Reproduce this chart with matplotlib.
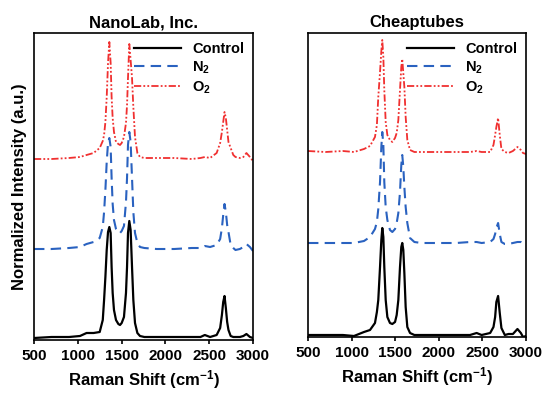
import matplotlib
matplotlib.use("Agg")
import matplotlib.pyplot as plt

plt.rcParams['font.family'] = ['Liberation Sans', 'DejaVu Sans']
plt.rcParams['font.weight'] = 'bold'
plt.rcParams['mathtext.default'] = 'regular'

# NanoLab, Inc. -- Raman shift (cm-1) and offset, normalized spectra
wn_nano = [500, 700, 900, 1025, 1100, 1180, 1250, 1285, 1300, 1315,
           1330, 1345, 1360, 1375, 1386, 1398, 1413, 1436, 1463, 1482,
           1501, 1527, 1550, 1562, 1573, 1588, 1603, 1619, 1634, 1653,
           1680, 1710, 1760, 1900, 2100, 2300, 2400, 2450, 2510, 2585,
           2625, 2645, 2660, 2675, 2690, 2705, 2720, 2745, 2775, 2800,
           2850, 2890, 2925, 2965, 3000]
nano_control = [.02, .03, .03, .04, .07, .07, .08, .20, .40, .63,
                .90, 1.08, 1.13, 1.07, .73, .47, .30, .20, .16, .15,
                .17, .23, .47, .73, 1.07, 1.19, 1.10, .73, .40, .17,
                .07, .04, .03, .03, .03, .03, .03, .05, .03, .05,
                .12, .25, .38, .44, .32, .18, .10, .04, .03, .03,
                .03, .04, .06, .03, .02]
nano_n2 = [.91, .91, .92, .93, .96, .98, 1.02, 1.13, 1.28, 1.50,
           1.78, 1.97, 2.02, 1.93, 1.62, 1.36, 1.20, 1.11, 1.07, 1.07,
           1.09, 1.14, 1.38, 1.62, 1.95, 2.08, 1.98, 1.62, 1.28, 1.07,
           .97, .93, .92, .91, .91, .92, .92, .94, .93, .95,
           1.01, 1.12, 1.25, 1.36, 1.28, 1.15, 1.08, .95, .92, .90,
           .91, .93, .96, .93, .89]
nano_o2 = [1.81, 1.81, 1.82, 1.83, 1.85, 1.87, 1.92, 1.99, 2.05, 2.18,
           2.43, 2.77, 2.98, 2.77, 2.43, 2.22, 2.08, 1.98, 1.96, 1.95,
           1.97, 2.03, 2.17, 2.35, 2.62, 2.96, 2.80, 2.62, 2.33, 2.03,
           1.87, 1.83, 1.82, 1.82, 1.82, 1.81, 1.82, 1.83, 1.82, 1.87,
           1.97, 2.08, 2.18, 2.28, 2.22, 2.10, 1.98, 1.92, 1.85, 1.83,
           1.82, 1.83, 1.87, 1.83, 1.79]

# Cheaptubes
wn_cheap = [500, 700, 900, 1027, 1142, 1211, 1268, 1290, 1306, 1326,
            1341, 1352, 1364, 1375, 1391, 1410, 1440, 1467, 1498, 1517,
            1536, 1555, 1570, 1581, 1593, 1605, 1620, 1639, 1670, 1720,
            1800, 2000, 2200, 2358, 2434, 2491, 2589, 2627, 2646, 2660,
            2680, 2699, 2718, 2757, 2800, 2850, 2902, 2941, 2966, 3000]
cheap_control = [.02, .02, .02, .01, .05, .07, .14, .25, .37, .70,
                 .97, 1.09, 1.00, .70, .37, .20, .14, .13, .15, .22,
                 .37, .70, .90, .94, .87, .64, .30, .10, .04, .02,
                 .02, .02, .02, .02, .04, .02, .04, .10, .20, .35,
                 .41, .24, .09, .02, .03, .03, .08, .04, .00, .01]
cheap_n2 = [.94, .94, .94, .94, .96, 1.00, 1.08, 1.15, 1.28, 1.55,
            1.90, 2.05, 1.92, 1.55, 1.30, 1.17, 1.07, 1.05, 1.08, 1.14,
            1.24, 1.45, 1.72, 1.82, 1.70, 1.50, 1.30, 1.14, .99, .95,
            .94, .94, .94, .95, .95, .94, .95, .98, 1.03, 1.09,
            1.14, 1.03, .95, .93, .93, .94, .95, .95, .93, .92]
cheap_o2 = [1.86, 1.85, 1.86, 1.85, 1.88, 1.91, 2.00, 2.12, 2.40, 2.65,
            2.86, 2.97, 2.80, 2.47, 2.15, 2.02, 1.97, 1.95, 1.99, 2.04,
            2.17, 2.47, 2.70, 2.78, 2.64, 2.50, 2.20, 1.97, 1.87, 1.85,
            1.85, 1.85, 1.85, 1.85, 1.86, 1.85, 1.85, 1.92, 2.02, 2.10,
            2.19, 2.02, 1.88, 1.85, 1.84, 1.86, 1.90, 1.87, 1.84, 1.83]

xticks = [500, 1000, 1500, 2000, 2500, 3000]

fig = plt.figure(figsize=(5.45, 3.95), dpi=100)
ax1 = fig.add_axes([34/545, 55/395, 219/545, 307/395])
ax2 = fig.add_axes([308/545, 58/395, 218/545, 304/395])

panels = [(ax1, "NanoLab, Inc.", wn_nano, nano_control, nano_n2, nano_o2, 3.07),
          (ax2, "Cheaptubes", wn_cheap, cheap_control, cheap_n2, cheap_o2, 3.04)]

for ax, title, wn, ctrl, n2, o2, ytop in panels:
    ax.plot(wn, ctrl, color='black', lw=1.6, label='Control')
    ax.plot(wn, n2, color='#2a62c0', lw=1.5, ls=(0, (5, 3)), label='N$_2$')
    ax.plot(wn, o2, color='#f03030', lw=1.3, ls=(0, (4, 1.2, 1, 1.2, 1, 1.2)), label='O$_2$')
    ax.set_xlim(500, 3000)
    ax.set_ylim(0, ytop)
    ax.set_xticks(xticks)
    ax.set_yticks([])
    ax.tick_params(axis='x', labelsize=11, direction='out', length=3, width=1.2)
    for lbl in ax.get_xticklabels():
        lbl.set_fontweight('bold')
    for sp in ax.spines.values():
        sp.set_linewidth(1.2)
    ax.set_title(title, fontsize=12, fontweight='bold', pad=4)
    ax.set_xlabel('Raman Shift (cm$^{-1}$)', fontsize=12, fontweight='bold')
    ax.legend(loc='upper right', frameon=False, handlelength=3.2,
              labelspacing=0.25, borderaxespad=0.2, handletextpad=0.8,
              prop={'weight': 'bold', 'size': 10.5})

ax1.set_ylabel('Normalized Intensity (a.u.)', fontsize=12, fontweight='bold', labelpad=5)

fig.savefig('out.png', dpi=100)
